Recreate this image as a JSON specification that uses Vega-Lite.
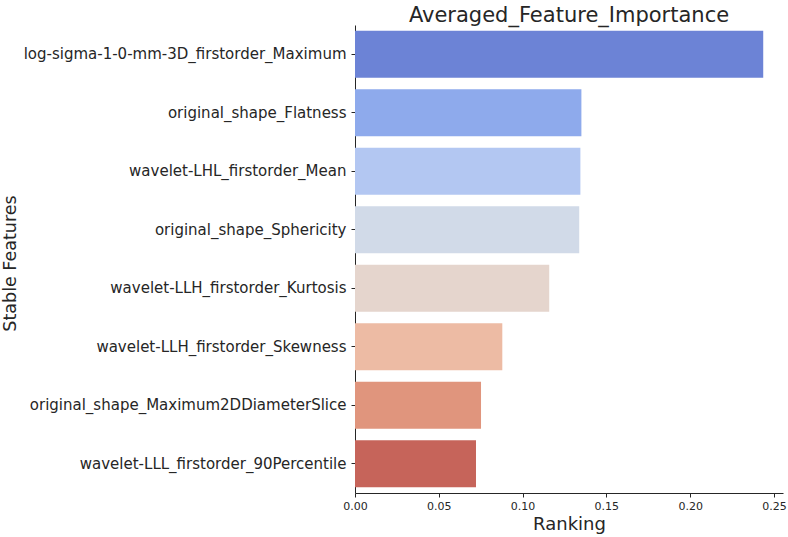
{
  "$schema": "https://vega.github.io/schema/vega-lite/v6.json",
  "autosize": {"type": "none"},
  "width": 428,
  "height": 468,
  "padding": {"left": 355, "top": 25, "right": 5, "bottom": 44},
  "background": "white",
  "config": {
    "font": "DejaVu Sans",
    "view": {"stroke": null},
    "axis": {"grid": false, "domainColor": "#262626", "tickColor": "#262626", "labelColor": "#262626", "titleColor": "#262626", "titleFontWeight": "normal", "domainWidth": 1, "tickSize": 4}
  },
  "title": {"text": "Averaged_Feature_Importance", "fontSize": 21, "fontWeight": "normal", "color": "#262626", "offset": -1, "anchor": "middle"},
  "data": {
    "values": [
      {"feature": "log-sigma-1-0-mm-3D_firstorder_Maximum", "ranking": 0.2436},
      {"feature": "original_shape_Flatness", "ranking": 0.1351},
      {"feature": "wavelet-LHL_firstorder_Mean", "ranking": 0.1345},
      {"feature": "original_shape_Sphericity", "ranking": 0.1338},
      {"feature": "wavelet-LLH_firstorder_Kurtosis", "ranking": 0.1159},
      {"feature": "wavelet-LLH_firstorder_Skewness", "ranking": 0.0879},
      {"feature": "original_shape_Maximum2DDiameterSlice", "ranking": 0.0752},
      {"feature": "wavelet-LLL_firstorder_90Percentile", "ranking": 0.0722}
    ]
  },
  "mark": {"type": "bar"},
  "encoding": {
    "y": {
      "field": "feature", "type": "nominal", "sort": null,
      "scale": {"paddingInner": 0.2, "paddingOuter": 0.1},
      "axis": {"title": "Stable Features", "titleFontSize": 17.5, "labelFontSize": 15, "labelPadding": 5, "labelLimit": 500, "titleX": -345, "titleY": 238, "titleAngle": -90, "titleAlign": "center", "titleBaseline": "middle"}
    },
    "x": {
      "field": "ranking", "type": "quantitative",
      "scale": {"domain": [0, 0.2554], "nice": false, "zero": true},
      "axis": {"title": "Ranking", "titleFontSize": 18, "labelFontSize": 11, "format": ".2f", "values": [0, 0.05, 0.1, 0.15, 0.2, 0.25], "labelFlush": false, "labelPadding": 3, "titlePadding": 4}
    },
    "color": {
      "field": "feature", "type": "nominal", "legend": null,
      "scale": {
        "domain": ["log-sigma-1-0-mm-3D_firstorder_Maximum", "original_shape_Flatness", "wavelet-LHL_firstorder_Mean", "original_shape_Sphericity", "wavelet-LLH_firstorder_Kurtosis", "wavelet-LLH_firstorder_Skewness", "original_shape_Maximum2DDiameterSlice", "wavelet-LLL_firstorder_90Percentile"],
        "range": ["#6c83d6", "#8eaaec", "#b3c7f2", "#d1dae8", "#e5d5cd", "#edbba4", "#e0957d", "#c6645a"]
      }
    }
  }
}
